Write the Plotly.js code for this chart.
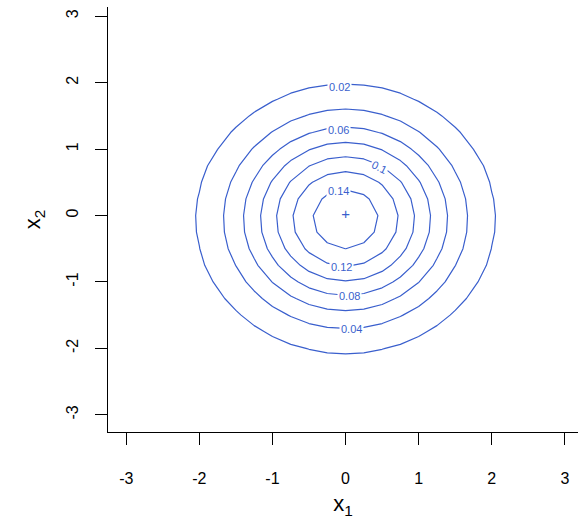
<!DOCTYPE html>
<html>
<head>
<meta charset="utf-8">
<script src="https://cdn.plot.ly/plotly-3.0.1.min.js"></script>
<style>html,body{margin:0;padding:0;background:#fff}#chart{width:578px;height:520px}</style>
</head>
<body>
<div id="chart"></div>
<script>
// Grid on which the density surface is evaluated
var gridX = [-3,-2.75,-2.5,-2.25,-2,-1.75,-1.5,-1.25,-1,-0.75,-0.5,-0.25,0,0.25,0.5,0.75,1,1.25,1.5,1.75,2,2.25,2.5,2.75,3];
var gridY = [-3,-2.75,-2.5,-2.25,-2,-1.75,-1.5,-1.25,-1,-0.75,-0.5,-0.25,0,0.25,0.5,0.75,1,1.25,1.5,1.75,2,2.25,2.5,2.75,3];
// Density surface: peak height, centre and spreads
var peak = 0.155;
var centre = [0, -0.05];
var spread = [1.01, 1.0];
// Marked point (+)
var pointX = [0];
var pointY = [0];
// Contour levels
var levels = [0.02, 0.04, 0.06, 0.08, 0.1, 0.12, 0.14];
var tickVals = [-3, -2, -1, 0, 1, 2, 3];
var tickText = ['-3', '-2', '-1', '0', '1', '2', '3'];

// Label placement: x position along the contour and which side (top/bottom)
var labelPlacement = {
  0.02: {x: -0.085, side: 1}, 0.04: {x: 0.085, side: -1}, 0.06: {x: -0.09, side: 1},
  0.08: {x: 0.05, side: -1}, 0.1: {x: 0.46, side: 1, rotate: true},
  0.12: {x: -0.06, side: -1}, 0.14: {x: -0.09, side: 1}
};

function dens(x, y) {
  var u = (x - centre[0]) / spread[0], v = (y - centre[1]) / spread[1];
  return peak * Math.exp(-(u * u + v * v) / 2);
}
var z = gridY.map(function (y) { return gridX.map(function (x) { return dens(x, y); }); });

var blue = '#3a5fcd';
var font = 'Liberation Sans, Arial, sans-serif';
var traces = [
  {
    type: 'contour', x: gridX, y: gridY, z: z,
    autocontour: false,
    contours: {
      start: levels[0], end: levels[levels.length - 1], size: levels[1] - levels[0],
      coloring: 'none', showlabels: false
    },
    line: {color: blue, width: 1.2, smoothing: 0},
    showscale: false, hoverinfo: 'skip'
  },
  {
    type: 'scatter', mode: 'text', x: pointX, y: pointY, text: ['+'],
    textposition: 'middle center',
    textfont: {family: font, size: 15, color: blue},
    hoverinfo: 'skip'
  }
];

var xRange = [-3.25, 3.18], yRange = [-3.26, 3.14];
var W = 578, H = 520, M = {l: 108, r: 0, t: 7, b: 88};
var pxPerX = (W - M.l - M.r) / (xRange[1] - xRange[0]);
var pxPerY = (H - M.t - M.b) / (yRange[1] - yRange[0]);

var annotations = levels.map(function (lv) {
  var p = labelPlacement[lv];
  var r2 = 2 * Math.log(peak / lv);
  var u = (p.x - centre[0]) / spread[0];
  var v = p.side * Math.sqrt(Math.max(r2 - u * u, 0));
  var ay = centre[1] + v * spread[1];
  var ang = 0;
  if (p.rotate) {
    var tx = -v / spread[1], ty = u / spread[0]; // tangent in data units
    ang = Math.atan2(-ty * pxPerY, tx * pxPerX) * 180 / Math.PI;
    if (ang > 90) ang -= 180; if (ang < -90) ang += 180;
  }
  return {
    x: p.x, y: ay, xref: 'x', yref: 'y', showarrow: false,
    yshift: p.side > 0 ? -2 : -1,
    text: String(lv), textangle: ang,
    font: {family: font, size: 11, color: blue},
    bgcolor: '#fff', borderpad: 1
  };
});

var axisCommon = {
  tickvals: tickVals, ticktext: tickText,
  ticks: 'outside', ticklen: 12, tickwidth: 1, tickcolor: '#000',
  showline: true, linecolor: '#000', linewidth: 1,
  showgrid: false, zeroline: false, mirror: false,
  tickfont: {family: font, size: 16, color: '#000'}
};

var layout = {
  width: W, height: H,
  margin: M,
  paper_bgcolor: '#fff', plot_bgcolor: '#fff',
  showlegend: false,
  annotations: annotations,
  xaxis: Object.assign({}, axisCommon, {
    range: xRange,
    ticklabelstandoff: 20,
    title: {text: 'x<sub>1</sub>', standoff: 9, font: {family: font, size: 22, color: '#000'}}
  }),
  yaxis: Object.assign({}, axisCommon, {
    range: yRange,
    tickangle: -90,
    ticklabelstandoff: 11,
    title: {text: 'x<sub>2</sub>', standoff: 16, font: {family: font, size: 22, color: '#000'}}
  })
};

Plotly.newPlot('chart', traces, layout, {displayModeBar: false, staticPlot: true});
</script>
</body>
</html>
